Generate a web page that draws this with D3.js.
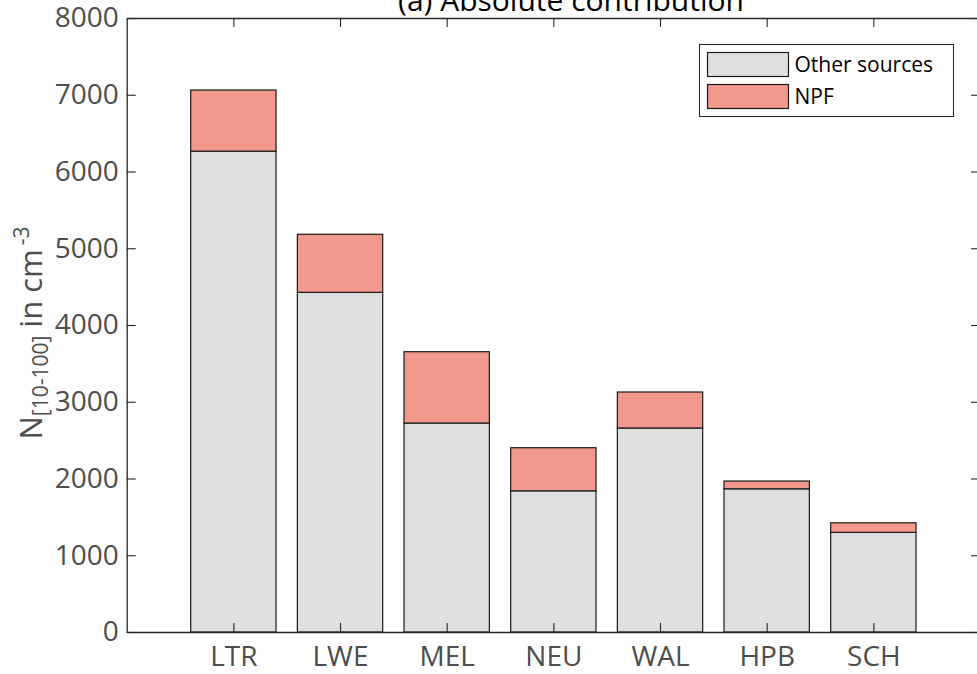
<!DOCTYPE html>
<html>
<head>
<meta charset="utf-8">
<script src="https://cdn.jsdelivr.net/npm/d3@7"></script>
<style>
  html, body { margin: 0; padding: 0; background: #fff; }
  svg { display: block; font-family: "Open Sans", sans-serif; }
</style>
</head>
<body>
<svg id="chart"></svg>
<script>
// Data
const sites = ["LTR", "LWE", "MEL", "NEU", "WAL", "HPB", "SCH"];
const otherSources = [6265, 4425, 2723, 1840, 2658, 1866, 1298];
const npf = [797, 757, 929, 561, 469, 101, 125];
const seriesNames = ["Other sources", "NPF"];
const seriesColors = ["#dfdfdf", "#f0998c"];
const yTicks = [0, 1000, 2000, 3000, 4000, 5000, 6000, 7000, 8000];

const width = 977;
const height = 674;
const axisColor = "#262626";
const labelColor = "#4d4d4d";

const svg = d3.select("#chart")
  .attr("width", width)
  .attr("height", height);

// MATLAB-like layout: categories at 1..7, xlim [0, 8]
const x = d3.scaleLinear().domain([0, sites.length + 1]).range([126.7, 980]);
const y = d3.scaleLinear().domain([0, 8000]).range([632, 18]);
const barHalf = 0.4;

// stacked values
const stacked = sites.map((s, i) => ({
  site: s,
  pos: i + 1,
  parts: [
    { y0: 0, y1: otherSources[i], color: seriesColors[0] },
    { y0: otherSources[i], y1: otherSources[i] + npf[i], color: seriesColors[1] }
  ]
}));

const bars = svg.append("g").attr("class", "bars");
stacked.forEach(d => {
  bars.selectAll(null)
    .data(d.parts)
    .enter().append("rect")
    .attr("x", x(d.pos - barHalf))
    .attr("width", x(d.pos + barHalf) - x(d.pos - barHalf))
    .attr("y", p => y(p.y1))
    .attr("height", p => y(p.y0) - y(p.y1))
    .attr("fill", p => p.color)
    .attr("stroke", "#1a1a1a")
    .attr("stroke-width", 1.2);
});

// axes
const tickLen = 9;
const xLeft = x(0), xRight = x(sites.length + 1);

const gx = svg.append("g")
  .attr("transform", `translate(0,${y(0)})`)
  .call(d3.axisBottom(x)
    .tickValues(d3.range(1, sites.length + 1))
    .tickFormat(d => sites[d - 1])
    .tickSize(-tickLen)
    .tickPadding(14)
    .tickSizeOuter(0));

const gxTop = svg.append("g")
  .attr("transform", `translate(0,${y(8000)})`)
  .call(d3.axisTop(x)
    .tickValues(d3.range(1, sites.length + 1))
    .tickFormat("")
    .tickSize(-tickLen)
    .tickSizeOuter(0));

const gy = svg.append("g")
  .attr("transform", `translate(${xLeft},0)`)
  .call(d3.axisLeft(y)
    .tickValues(yTicks)
    .tickFormat(d3.format("d"))
    .tickSize(-tickLen)
    .tickPadding(8)
    .tickSizeOuter(0));

const gyRight = svg.append("g")
  .attr("transform", `translate(${xRight},0)`)
  .call(d3.axisRight(y)
    .tickValues(yTicks)
    .tickFormat("")
    .tickSize(-tickLen)
    .tickSizeOuter(0));

[gx, gxTop, gy, gyRight].forEach(g => {
  g.select(".domain").attr("stroke", axisColor).attr("stroke-width", 1.3);
  g.selectAll(".tick line").attr("stroke", axisColor).attr("stroke-width", 1.1);
  g.selectAll(".tick text")
    .attr("fill", labelColor)
    .style("font-family", "'Open Sans', sans-serif")
    .style("font-size", "28px");
});

// y label with subscript / superscript
const yLabel = svg.append("text")
  .attr("transform", `translate(42,333) rotate(-90)`)
  .attr("text-anchor", "middle")
  .attr("fill", labelColor)
  .style("font-size", "31px");
yLabel.append("tspan").text("N");
yLabel.append("tspan").attr("dy", 6).style("font-size", "21px").text("[10-100]");
yLabel.append("tspan").attr("dy", -6).text(" in cm");
yLabel.append("tspan").attr("dy", -13).attr("dx", 4).style("font-size", "21px").text("-3");

// title (partly clipped at the top, as in the figure)
svg.append("text")
  .attr("x", 571)
  .attr("y", 11)
  .attr("text-anchor", "middle")
  .attr("fill", "#000")
  .style("font-size", "30px")
  .text("(a) Absolute contribution");

// legend
const legend = svg.append("g").attr("transform", "translate(699.5,44.5)");
legend.append("rect")
  .attr("width", 254)
  .attr("height", 72)
  .attr("fill", "#fff")
  .attr("stroke", axisColor)
  .attr("stroke-width", 1);

const items = legend.selectAll(".item")
  .data(seriesNames)
  .enter().append("g")
  .attr("transform", (d, i) => `translate(8,${8 + i * 32})`);
items.append("rect")
  .attr("width", 81)
  .attr("height", 24)
  .attr("fill", (d, i) => seriesColors[i])
  .attr("stroke", "#1a1a1a")
  .attr("stroke-width", 1.2);
items.append("text")
  .attr("x", 87)
  .attr("y", 12)
  .attr("dy", "0.36em")
  .attr("fill", "#000")
  .style("font-size", "21px")
  .text(d => d);
</script>
</body>
</html>
